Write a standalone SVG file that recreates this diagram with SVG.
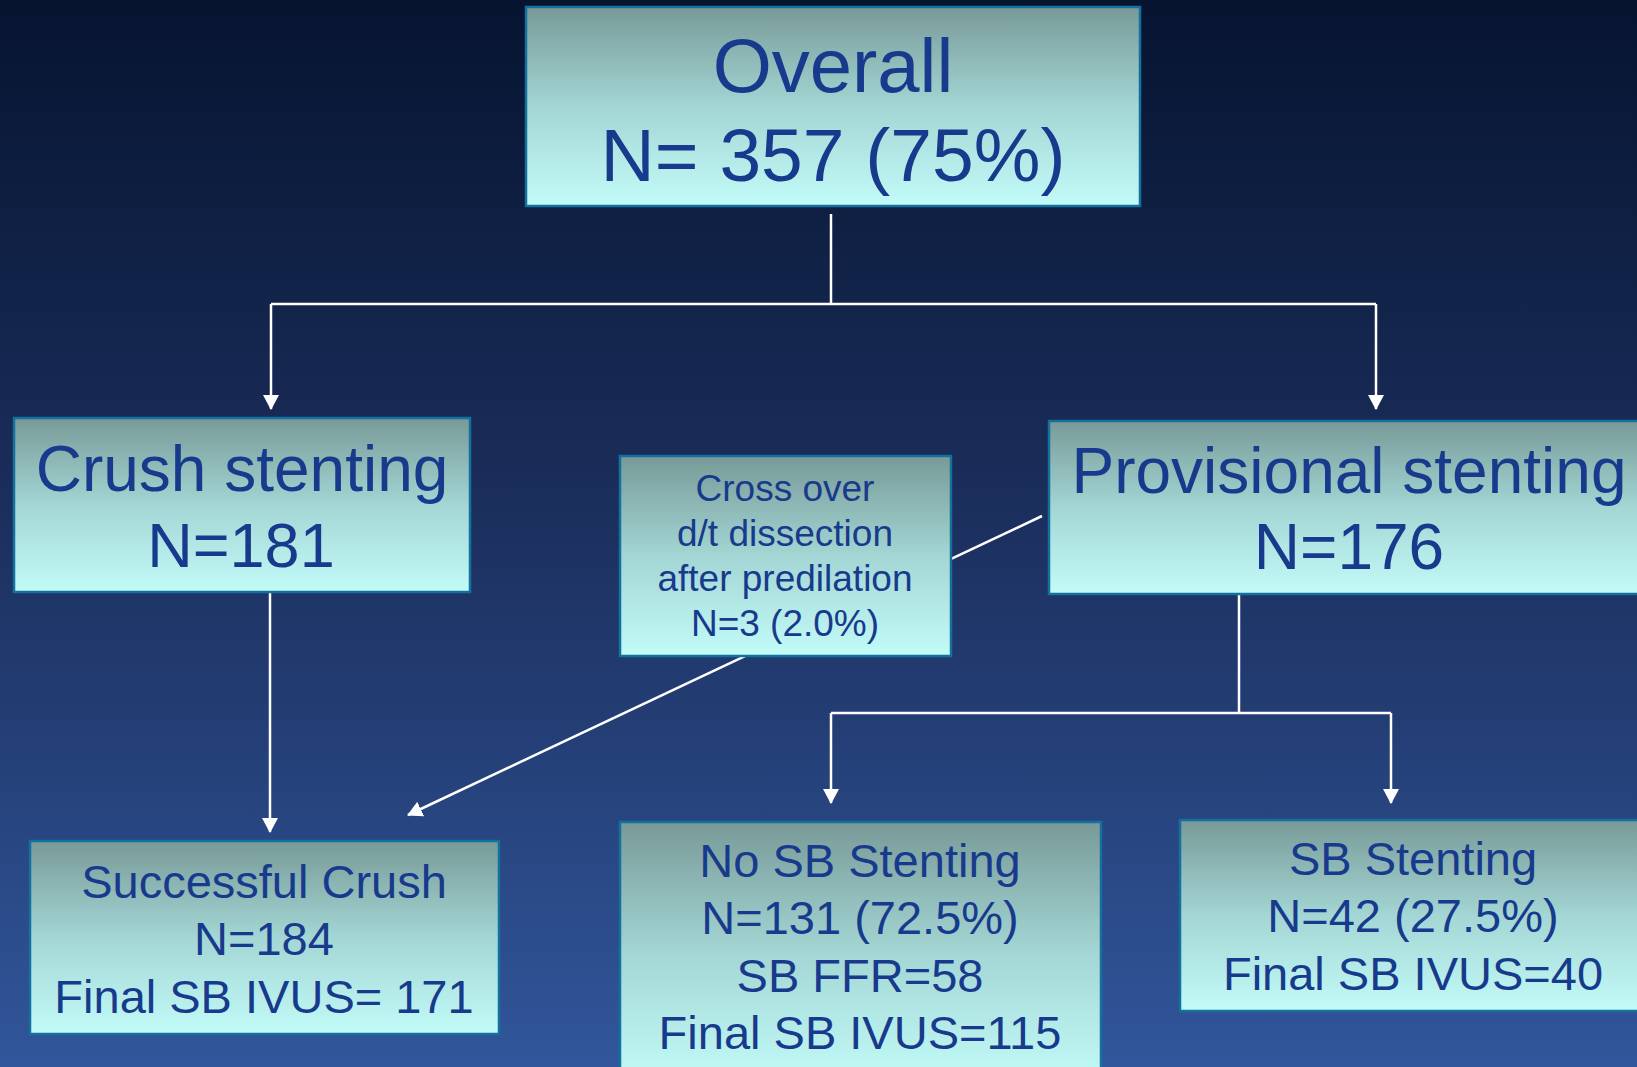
<svg xmlns="http://www.w3.org/2000/svg" width="1637" height="1067" viewBox="0 0 1637 1067">
<defs>
<linearGradient id="bg" x1="0" y1="0" x2="0" y2="1">
<stop offset="0" stop-color="#061430"/>
<stop offset="0.45" stop-color="#1a2d5a"/>
<stop offset="1" stop-color="#31569b"/>
</linearGradient>
<linearGradient id="box" x1="0" y1="0" x2="0" y2="1">
<stop offset="0" stop-color="#789a98"/>
<stop offset="0.5" stop-color="#a3d6d4"/>
<stop offset="1" stop-color="#c2fbf8"/>
</linearGradient>
<marker id="arr" viewBox="0 0 15 16" refX="14" refY="8" markerWidth="15" markerHeight="16" markerUnits="userSpaceOnUse" orient="auto">
<path d="M0,0 L15,8 L0,16 Z" fill="#ffffff"/>
</marker>
<style>
.b{fill:url(#box);stroke:#13709f;stroke-width:2.5}
.t{font-family:"Liberation Sans",Arial,sans-serif;fill:#173a8c;text-anchor:middle}
.c{fill:none;stroke:#ffffff;stroke-width:2.5}
</style>
</defs>
<rect x="0" y="0" width="1637" height="1067" fill="url(#bg)"/>
<g id="connectors">
<path class="c" d="M831,214 V304"/>
<path class="c" d="M271,304 H1376"/>
<path class="c" d="M271,304 V409" marker-end="url(#arr)"/>
<path class="c" d="M1376,304 V409" marker-end="url(#arr)"/>
<path class="c" d="M270,592 V832" marker-end="url(#arr)"/>
<path class="c" d="M1239,594 V713"/>
<path class="c" d="M831,713 H1391"/>
<path class="c" d="M831,713 V803" marker-end="url(#arr)"/>
<path class="c" d="M1391,713 V803" marker-end="url(#arr)"/>
<path class="c" d="M1042,516 L408,815" marker-end="url(#arr)"/>
</g>
<g id="overall">
<rect class="b" x="526" y="7" width="614" height="199"/>
<text class="t" x="833" y="92" font-size="76">Overall</text>
<text class="t" x="833" y="181" font-size="75">N= 357 (75%)</text>
</g>
<g id="crush">
<rect class="b" x="14" y="418" width="456" height="174"/>
<text class="t" x="242" y="491" font-size="64">Crush stenting</text>
<text class="t" x="241" y="567" font-size="63">N=181</text>
</g>
<g id="crossover">
<rect class="b" x="620" y="456" width="331" height="200"/>
<text class="t" x="785" y="501" font-size="37">Cross over</text>
<text class="t" x="785" y="546" font-size="37">d/t dissection</text>
<text class="t" x="785" y="591" font-size="37">after predilation</text>
<text class="t" x="785" y="636" font-size="37">N=3 (2.0%)</text>
</g>
<g id="provisional">
<rect class="b" x="1049" y="421" width="600" height="173"/>
<text class="t" x="1349" y="493" font-size="64">Provisional stenting</text>
<text class="t" x="1349" y="569" font-size="64">N=176</text>
</g>
<g id="successful">
<rect class="b" x="30" y="841" width="469" height="193"/>
<text class="t" x="264" y="898" font-size="47">Successful Crush</text>
<text class="t" x="264" y="955" font-size="47">N=184</text>
<text class="t" x="264" y="1013" font-size="47">Final SB IVUS= 171</text>
</g>
<g id="nosb">
<rect class="b" x="620" y="822" width="481" height="260"/>
<text class="t" x="860" y="877" font-size="47">No SB Stenting</text>
<text class="t" x="860" y="934" font-size="47">N=131 (72.5%)</text>
<text class="t" x="860" y="992" font-size="47">SB FFR=58</text>
<text class="t" x="860" y="1049" font-size="47">Final SB IVUS=115</text>
</g>
<g id="sb">
<rect class="b" x="1180" y="820" width="466" height="191"/>
<text class="t" x="1413" y="875" font-size="47">SB Stenting</text>
<text class="t" x="1413" y="932" font-size="47">N=42 (27.5%)</text>
<text class="t" x="1413" y="990" font-size="47">Final SB IVUS=40</text>
</g>
</svg>
